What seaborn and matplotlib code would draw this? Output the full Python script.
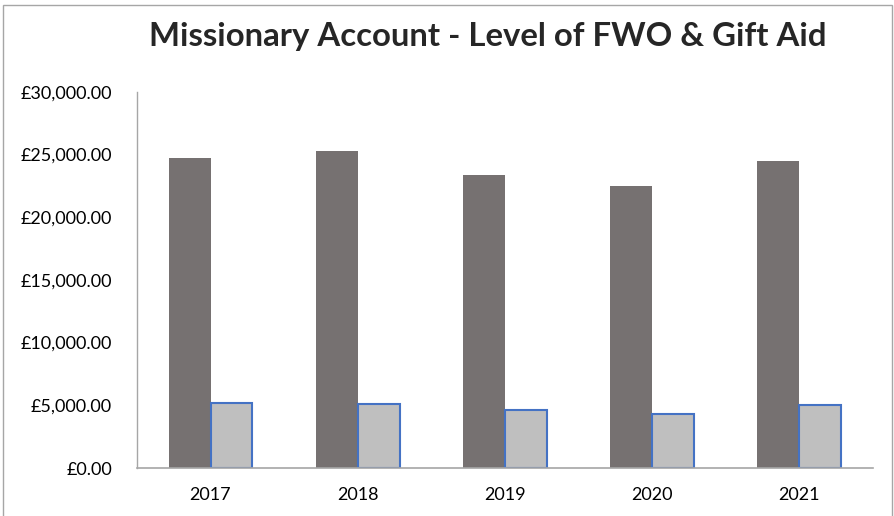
import matplotlib
matplotlib.use("Agg")
import matplotlib.pyplot as plt
import seaborn as sns
import pandas as pd
from matplotlib.patches import Rectangle
from matplotlib.ticker import FuncFormatter

years = ["2017", "2018", "2019", "2020", "2021"]
fwo = [24750, 25250, 23400, 22500, 24500]
gift_aid = [5200, 5100, 4650, 4330, 5050]

df = pd.DataFrame({
    "year": years * 2,
    "value": fwo + gift_aid,
    "series": ["FWO"] * len(years) + ["Gift Aid"] * len(years),
})

sns.set_style("white")
plt.rcParams["font.family"] = ["Lato", "DejaVu Sans"]

fig = plt.figure(figsize=(8.95, 5.16), dpi=100)
ax = fig.add_axes([0.153, 0.093, 0.822, 0.729])

sns.barplot(data=df, x="year", y="value", hue="series",
            palette=["#767171", "#BFBFBF"], width=0.57, gap=0,
            saturation=1, legend=False, ax=ax)

# light bars get the blue outline
for bar in ax.containers[1]:
    bar.set_edgecolor("#4472C4")
    bar.set_linewidth(1.5)
for bar in ax.containers[0]:
    bar.set_edgecolor("none")

ax.set_ylim(0, 30000)
ax.set_yticks(range(0, 30001, 5000))
ax.yaxis.set_major_formatter(FuncFormatter(lambda v, p: f"£{v:,.2f}"))
ax.set_xlabel("")
ax.set_ylabel("")
ax.tick_params(axis="both", length=0, labelsize=13, colors="#000000")
ax.tick_params(axis="y", pad=18)
ax.tick_params(axis="x", pad=14)

for s in ["top", "right"]:
    ax.spines[s].set_visible(False)
ax.spines["left"].set_color("#A6A6A6")
ax.spines["bottom"].set_color("#A6A6A6")
ax.spines["left"].set_linewidth(1)
ax.spines["bottom"].set_linewidth(1.2)

fig.text(0.545, 0.911, "Missionary Account - Level of FWO & Gift Aid",
         ha="center", va="baseline", fontsize=23.7, fontweight="bold")

# chart border
fig.patches.append(Rectangle((0.003, -0.01), 0.994, 1.0, transform=fig.transFigure,
                             fill=False, edgecolor="#A6A6A6", linewidth=1))

fig.savefig("out.png", dpi=100)
